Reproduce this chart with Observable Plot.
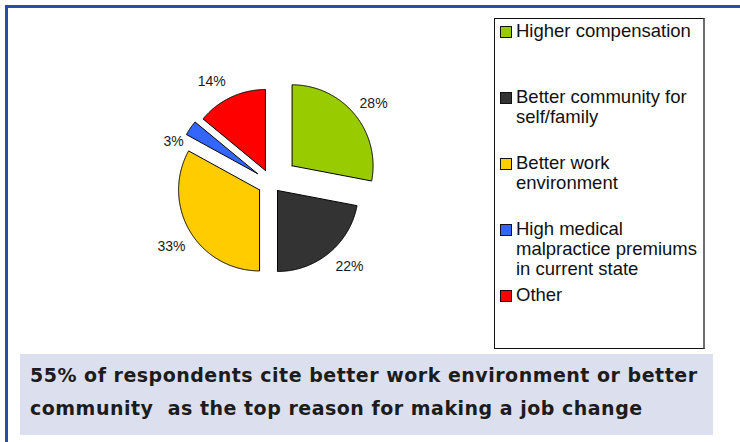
<!DOCTYPE html>
<html>
<head>
<meta charset="utf-8">
<script src="https://cdn.jsdelivr.net/npm/d3@7"></script>
<script src="https://cdn.jsdelivr.net/npm/@observablehq/plot@0.6"></script>
<style>
  html, body { margin: 0; padding: 0; background: #fff; width: 740px; height: 442px; overflow: hidden; }
  #frame { position: absolute; left: 5px; top: 5px; width: 800px; height: 500px;
           border-top: 3px solid #1d55a0; border-left: 3px solid #1d55a0; }
  #pie { position: absolute; left: 0; top: 0; }
  #legend { position: absolute; left: 494px; top: 18px; width: 208px; height: 329px;
            border: 1px solid #111; border-right: 2px solid #6e6e6e; background: #fff;
            font-family: "Liberation Sans", Arial, sans-serif; font-size: 18.5px; color: #111; }
  .entry { position: absolute; left: 0; width: 208px; }
  .sw { position: absolute; left: 5px; top: 5px; width: 10px; height: 10px; border: 1px solid #111; }
  .lt { position: absolute; left: 21px; top: 0; width: 186px; line-height: 20px; }
  #caption { position: absolute; left: 20px; top: 354px; width: 693px; height: 81px; background: #dcdfee; }
  #caption div { position: absolute; left: 10px; top: 5px; white-space: pre; line-height: 33px;
                 font-family: "DejaVu Sans", sans-serif; font-weight: bold; font-size: 19px;
                 letter-spacing: 0.5px; color: #1c1c1c; }
</style>
</head>
<body>
<div id="frame"></div>
<div id="pie"></div>
<div id="legend"></div>
<div id="caption"><div id="captext"></div></div>
<script>
// ---- data ----
const categories = [
  "Higher compensation",
  "Better community for self/family",
  "Better work environment",
  "High medical malpractice premiums in current state",
  "Other"
];
const values = [28, 22, 33, 3, 14];
const valueLabels = ["28%", "22%", "33%", "3%", "14%"];
const captionLines = [
  "55% of respondents cite better work environment or better",
  "community  as the top reason for making a job change"
];

// ---- styles ----
const colors = ["#99cc00", "#333333", "#ffcc00", "#3366ff", "#ff0000"];
const explode = [0.333, 0.12, 0.168, 0.207, 0.17];      // slice offset, in radii
const labelRadius = [1.27, 1.29, 1.29, 1.11, 1.28];     // label distance from slice corner, in radii
const labelShift = [2, -4, -2, -13, -6];                // label angle nudge, degrees

// ---- geometry in unit (radius = 1) space ----
const arcs = d3.pie().sort(null).value(d => d)(values);
const polys = [];
const labelPts = [];
arcs.forEach((a, i) => {
  const mid = (a.startAngle + a.endAngle) / 2;
  const ex = explode[i] * Math.sin(mid), ey = explode[i] * Math.cos(mid);
  const cat = categories[i];
  polys.push({cat, x: ex, y: ey});
  const n = Math.max(2, Math.ceil((a.endAngle - a.startAngle) / (Math.PI / 360)));
  for (let k = 0; k <= n; k++) {
    const t = a.startAngle + (a.endAngle - a.startAngle) * k / n;
    polys.push({cat, x: ex + Math.sin(t), y: ey + Math.cos(t)});
  }
  polys.push({cat, x: ex, y: ey});
  const la = mid + labelShift[i] * Math.PI / 180;
  labelPts.push({x: ex + labelRadius[i] * Math.sin(la), y: ey + labelRadius[i] * Math.cos(la), text: valueLabels[i]});
});

// pixel layout: radius 81px, centre at (270.8, 182.5) of a 480x345 svg
const W = 480, H = 345, R = 81, CX = 270.8, CY = 182.5;
const chart = Plot.plot({
  width: W, height: H, margin: 0,
  x: {domain: [-CX / R, (W - CX) / R], axis: null},
  y: {domain: [-(H - CY) / R, CY / R], axis: null},
  color: {domain: categories, range: colors},
  style: {background: "transparent", overflow: "visible"},
  marks: [
    Plot.line(polys, {x: "x", y: "y", z: "cat", fill: "cat", stroke: "#000", strokeWidth: 1,
                      strokeLinejoin: "miter", curve: "linear"}),
    Plot.text(labelPts, {x: "x", y: "y", text: "text", fontSize: 14, fill: "#1a1a1a",
                         fontFamily: "Liberation Sans, Arial, sans-serif", textAnchor: "middle"})
  ]
});
document.getElementById("pie").appendChild(chart);

// legend
const leg = document.getElementById("legend");
categories.forEach((c, i) => {
  const e = document.createElement("div");
  e.className = "entry";
  e.style.top = (2 + i * 66) + "px";
  const sw = document.createElement("div");
  sw.className = "sw";
  sw.style.background = colors[i];
  const t = document.createElement("div");
  t.className = "lt";
  t.textContent = c;
  e.appendChild(sw); e.appendChild(t);
  leg.appendChild(e);
});

document.getElementById("captext").textContent = captionLines.join("\n");
</script>
</body>
</html>
